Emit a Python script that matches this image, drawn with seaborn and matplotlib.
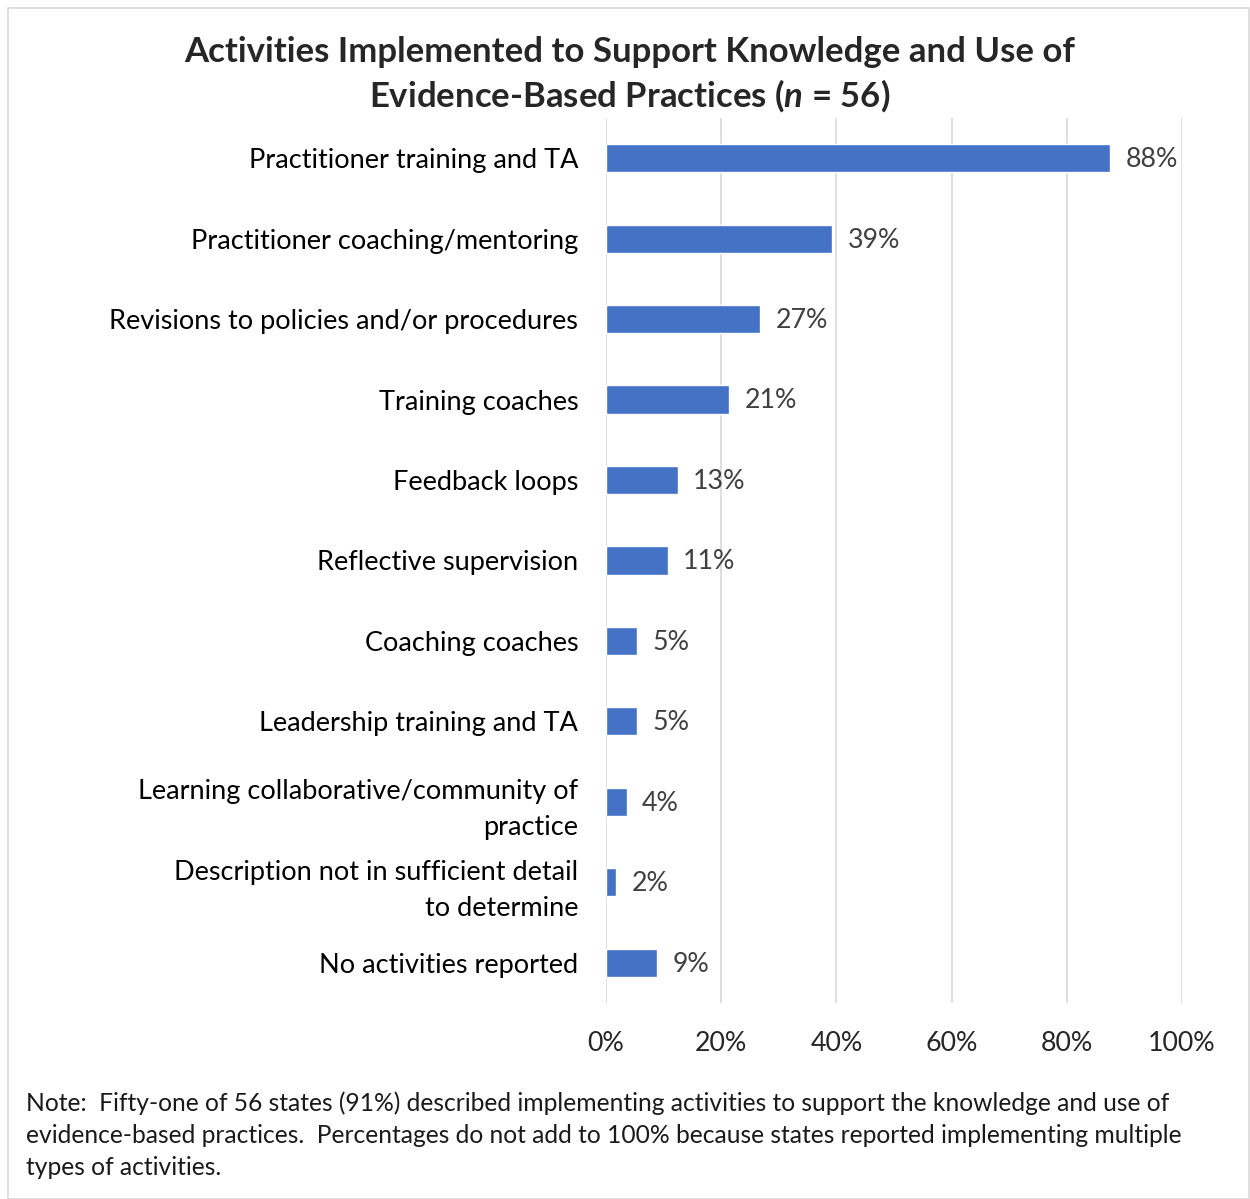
import pandas as pd
import seaborn as sns
import matplotlib.pyplot as plt
from matplotlib.patches import Rectangle

# Chart data (share of 56 states, in %)
activities = [
    "Practitioner training and TA",
    "Practitioner coaching/mentoring",
    "Revisions to policies and/or procedures",
    "Training coaches",
    "Feedback loops",
    "Reflective supervision",
    "Coaching coaches",
    "Leadership training and TA",
    "Learning collaborative/community of\npractice",
    "Description not in sufficient detail\nto determine",
    "No activities reported",
]
percent = [87.5, 39.3, 26.8, 21.4, 12.5, 10.7, 5.4, 5.4, 3.6, 1.8, 8.9]
percent_labels = ["88%", "39%", "27%", "21%", "13%", "11%", "5%", "5%", "4%", "2%", "9%"]
x_ticks = [0, 20, 40, 60, 80, 100]

title = "Activities Implemented to Support Knowledge and Use of\nEvidence-Based Practices ($\\mathit{n}$ = 56)"
note = ("Note:  Fifty-one of 56 states (91%) described implementing activities to support the knowledge and use of\n"
        "evidence-based practices.  Percentages do not add to 100% because states reported implementing multiple\n"
        "types of activities.")

df = pd.DataFrame({"activity": activities, "percent": percent})

sns.set_theme(style="white")
plt.rcParams["font.family"] = ["Lato", "DejaVu Sans"]
plt.rcParams["mathtext.fontset"] = "custom"
plt.rcParams["mathtext.it"] = "Lato:italic:bold"

fig = plt.figure(figsize=(12.5, 11.99), dpi=100)
ax = fig.add_axes([0.4848, 0.1635, 0.4608, 0.7381])

sns.barplot(data=df, x="percent", y="activity", orient="h", color="#4472C4",
            saturation=1, width=0.35, ax=ax, zorder=3)

for patch, lab in zip(ax.patches, percent_labels):
    y = patch.get_y() + patch.get_height() / 2
    ax.annotate(lab, (patch.get_width(), y), xytext=(11, -1), textcoords="offset points",
                va="center", ha="left", fontsize=19.3, color="#404040")

ax.set_xlim(0, 100)
ax.set_ylim(10.5, -0.5)
ax.set_xticks(x_ticks)
ax.set_xticklabels([f"{t}%" for t in x_ticks], fontsize=19.3, color="#262626")
ax.tick_params(axis="x", length=0, pad=20)
ax.tick_params(axis="y", length=0, pad=20, labelsize=19.5)
for lab in ax.get_yticklabels():
    lab.set_horizontalalignment("right")
    lab.set_linespacing(1.54)
    lab.set_color("black")
ax.set_xlabel("")
ax.set_ylabel("")
ax.grid(axis="x", color="#d9d9d9", linewidth=1.2, zorder=0)
for s in ax.spines.values():
    s.set_visible(False)

fig.text(0.504, 0.9375, title, ha="center", va="center", fontsize=25,
         fontweight="bold", linespacing=1.3)
fig.text(0.021, 0.0534, note, ha="left", va="center", fontsize=17.7, color="#1a1a1a",
         linespacing=1.46)

fig.patches.append(Rectangle((0.006, 0.0), 0.993, 0.993, transform=fig.transFigure,
                             fill=False, edgecolor="#d9d9d9", linewidth=1.2))

plt.savefig("out.png", dpi=100)
plt.close()
